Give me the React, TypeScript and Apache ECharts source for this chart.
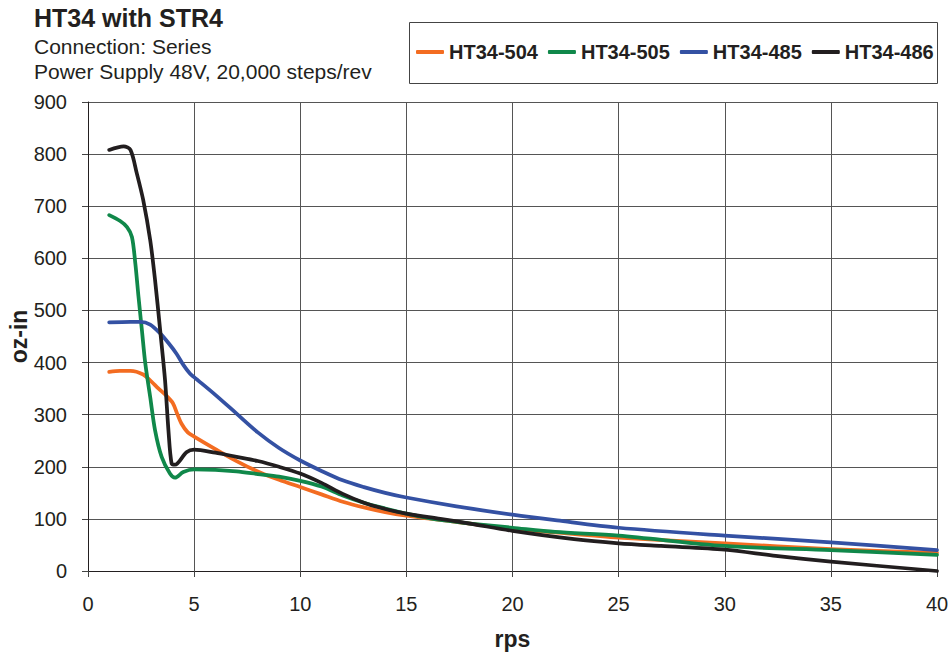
import React, { useEffect, useRef } from "react";
import * as echarts from "echarts";

const seriesNames = ["HT34-504", "HT34-505", "HT34-485", "HT34-486"];
const seriesColors = ["#F36C21", "#10884A", "#3451A3", "#221E1F"];

const ht34_504: [number, number][] = [
  [1, 382], [1.5, 384], [2, 384], [2.6, 377], [3.0, 363], [3.3, 351], [3.7, 336], [4.0, 322],
  [4.2, 302], [4.4, 283], [4.7, 266], [5, 258], [6, 234], [7, 211], [8, 191], [9, 175],
  [10, 161], [11, 147], [12, 133], [13, 122], [14, 113], [15, 106], [16, 101], [17, 96],
  [18, 91], [20, 81], [22, 74], [25, 64], [30, 53], [35, 42], [40, 35],
];
const ht34_505: [number, number][] = [
  [1, 683], [1.5, 672], [1.84, 660], [2.07, 641], [2.23, 590], [2.38, 526], [2.54, 462],
  [2.7, 398], [2.93, 334], [3.16, 270], [3.47, 219], [3.86, 187], [4.1, 179], [4.49, 190],
  [5, 195], [6, 194], [7, 191], [8, 186], [9, 181], [10, 173], [11, 162], [12, 145],
  [13, 131], [14, 120], [15, 110], [16, 102], [17, 96], [18, 91], [20, 83], [22, 75],
  [25, 68], [30, 48], [35, 40], [40, 31],
];
const ht34_485: [number, number][] = [
  [1, 477], [2, 478], [2.46, 478], [2.93, 473], [3.4, 456], [3.8, 437], [4.17, 417],
  [4.5, 395], [4.8, 379], [5, 372], [6, 338], [7, 302], [8, 266], [9, 236], [10, 212],
  [11, 192], [12, 174], [13, 161], [14, 150], [15, 141], [17.36, 124], [20, 108],
  [22.1, 97], [25, 83], [30, 68], [35, 55], [40, 40],
];
const ht34_486: [number, number][] = [
  [1, 808], [1.68, 815], [2.0, 808], [2.3, 763], [2.6, 712], [2.93, 635], [3.16, 558],
  [3.4, 462], [3.63, 366], [3.79, 270], [3.94, 206], [4.1, 204], [4.64, 228], [5, 233],
  [6, 227], [7, 219], [8, 211], [9, 200], [10, 187], [11, 169], [12, 148], [13, 131],
  [14, 119], [15, 110], [16.6, 100], [18, 91], [20, 77], [22.9, 61], [25, 53], [27, 48],
  [30, 41], [32.4, 29], [35, 18], [40, 0],
];
const seriesData = [ht34_504, ht34_505, ht34_485, ht34_486];

const titleText = "HT34 with STR4";
const subText1 = "Connection: Series";
const subText2 = "Power Supply 48V, 20,000 steps/rev";
const xAxisName = "rps";
const yAxisName = "oz-in";

const FONT = "'Liberation Sans', Arial, Helvetica, sans-serif";
const TXT = "#231F20";

export default function App() {
  const ref = useRef<HTMLDivElement>(null);
  useEffect(() => {
    if (!ref.current) return;
    const chart = echarts.init(ref.current, undefined, { renderer: "svg" });
    chart.setOption({
      animation: false,
      backgroundColor: "#ffffff",
      textStyle: { fontFamily: FONT, color: TXT },
      graphic: [
        {
          type: "text", left: 34, top: 5,
          style: { text: titleText, font: `bold 25px ${FONT}`, fill: TXT },
        },
        {
          type: "text", left: 34, top: 36,
          style: { text: subText1, font: `21px ${FONT}`, fill: TXT },
        },
        {
          type: "text", left: 34, top: 61,
          style: { text: subText2, font: `21px ${FONT}`, fill: TXT },
        },
        {
          type: "rect", shape: { x: 409.5, y: 22.5, width: 528, height: 61 },
          style: { fill: "none", stroke: "#444", lineWidth: 1 },
        },
      ],
      legend: {
        left: 416, top: 42, padding: 0,
        itemWidth: 28, itemHeight: 4, itemGap: 10, icon: "roundRect",
        data: seriesNames,
        textStyle: { fontSize: 20, fontWeight: "bold", color: TXT, fontFamily: FONT },
      },
      grid: { left: 88, right: 14, top: 102, bottom: 85, containLabel: false, outerBoundsMode: "none" },
      xAxis: {
        type: "value", min: 0, max: 40, interval: 5,
        name: xAxisName, nameLocation: "middle", nameGap: 56, nameMoveOverlap: false,
        nameTextStyle: { fontSize: 23, fontWeight: "bold", color: TXT, fontFamily: FONT },
        axisLine: { show: true, lineStyle: { color: TXT, width: 1 } },
        axisTick: { show: true, length: 6, inside: false, lineStyle: { color: "#444" } },
        axisLabel: { fontSize: 20, color: TXT, margin: 23, fontFamily: FONT },
        splitLine: { show: true, lineStyle: { color: "#555", width: 1 } },
      },
      yAxis: {
        type: "value", min: 0, max: 900, interval: 100,
        name: yAxisName, nameLocation: "middle", nameGap: 58, nameRotate: 90, nameMoveOverlap: false,
        nameTextStyle: { fontSize: 23, fontWeight: "bold", color: TXT, fontFamily: FONT },
        axisLine: { show: true, lineStyle: { color: TXT, width: 1 } },
        axisTick: { show: true, length: 6, inside: false, lineStyle: { color: "#444" } },
        axisLabel: { fontSize: 20, color: TXT, margin: 21, fontFamily: FONT },
        splitLine: { show: true, lineStyle: { color: "#555", width: 1 } },
      },
      series: seriesNames.map((name, i) => ({
        name,
        type: "line",
        data: seriesData[i],
        showSymbol: false,
        symbol: "none",
        smooth: 0.3,
        color: seriesColors[i],
        lineStyle: { color: seriesColors[i], width: 3.75, cap: "round", join: "round" },
        z: 2 + i,
      })),
    });
    return () => chart.dispose();
  }, []);
  return (
    <div
      ref={ref}
      style={{ position: "fixed", left: 0, top: 0, width: 951, height: 656, background: "#fff" }}
    />
  );
}
